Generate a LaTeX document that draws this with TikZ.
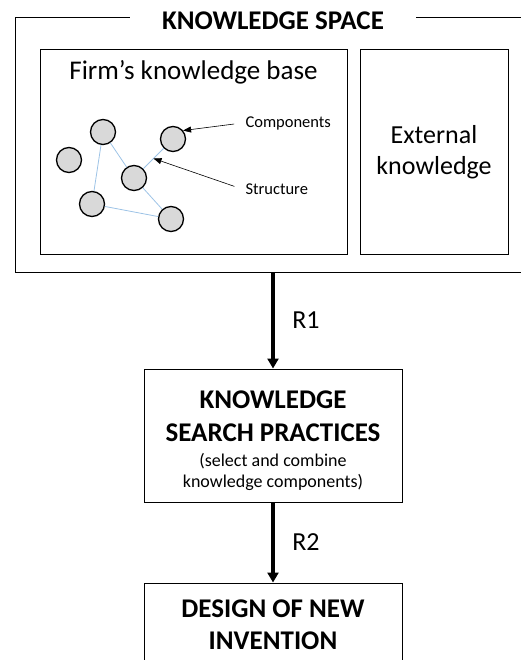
\documentclass[tikz,border=0pt]{standalone}
\usepackage{fontspec}
\setmainfont{Carlito}
\usetikzlibrary{arrows.meta,positioning,calc}
\definecolor{linkblue}{HTML}{9DC3E6}
\definecolor{compgray}{HTML}{D9D9D9}

\begin{document}
\begin{tikzpicture}[x=1pt,y=-1pt,
		box/.style={rectangle,draw,line width=1pt,align=center,inner sep=0pt},
		comp/.style={circle,draw,fill=compgray,line width=1.3pt,minimum size=25pt,inner sep=0pt},
		link/.style={draw=linkblue,line width=0.8pt},
		pointer/.style={-{Triangle[length=8pt,width=6pt]},line width=0.6pt},
		marrow/.style={-{Triangle[length=10pt,width=11pt]},line width=4pt},
		big/.style={font=\fontsize{26}{31}\selectfont},
		bigbold/.style={font=\bfseries\fontsize{27}{32}\selectfont},
		small/.style={font=\fontsize{16.5}{18}\selectfont}]
		\useasboundingbox (0,0) rectangle (521,660);

		% knowledge space
		\node [box,minimum width=516pt,minimum height=254pt] (space) at (273,145) {};
		\node [fill=white,inner xsep=32pt,inner ysep=2pt,bigbold,yshift=-3pt] (space-title) at (space.north) {KNOWLEDGE SPACE};

		\node [box,minimum width=307pt,minimum height=204pt] (firm) at (193.5,152) {};
		\node [box,big,minimum width=148pt,minimum height=204pt] (external) [right=12pt of firm] {External\\knowledge};
		\node [big,font=\fontsize{27}{31}\selectfont] (firm-title) [below=7pt of firm.north] {Firm’s knowledge base};

		% components
		\node [comp] (c1) at (103,132) {};
		\node [comp] (c2) at (69,160) {};
		\node [comp] (c3) at (173,139) {};
		\node [comp] (c4) at (134,178) {};
		\node [comp] (c5) at (92,204) {};
		\node [comp] (c6) at (171,219) {};

		% structure
		\draw [link] (c1) -- (c4);
		\draw [link] (c1) -- (c5);
		\draw [link] (c4) -- (c3);
		\draw [link] (c4) -- (c6);
		\draw [link] (c5) -- (c6);

		\node [small,anchor=west] (components) at (242,123) {Components};
		\node [small,anchor=west] (structure) at (242,189) {Structure};
		\draw [pointer,shorten <=8pt] (components.west) -- (c3.40);
		\draw [pointer,shorten <=8pt] (structure.west) -- ($(c4)!0.5!(c3)$);

		% search and design
		\node [box,minimum width=258pt,minimum height=133pt] (search) [below=96pt of space] {};
		\node [bigbold,align=center,yshift=-5pt] (search-text) at (search) {
			KNOWLEDGE\\[1pt]
			SEARCH PRACTICES\\[-7pt]
			{\mdseries\fontsize{18}{18}\selectfont (select and combine}\\[-11pt]
			{\mdseries\fontsize{18}{18}\selectfont knowledge components)}
		};
		\node [box,bigbold,minimum width=258pt,minimum height=84pt] (design) [below=80pt of search] {
			DESIGN OF NEW\\INVENTION
		};

		% arrows
		\draw [marrow] (space.south) to node [big,right=14pt] {R1} (search.north);
		\draw [marrow] (search.south) to node [big,right=14pt] {R2} (design.north);
	\end{tikzpicture}
\end{document}
